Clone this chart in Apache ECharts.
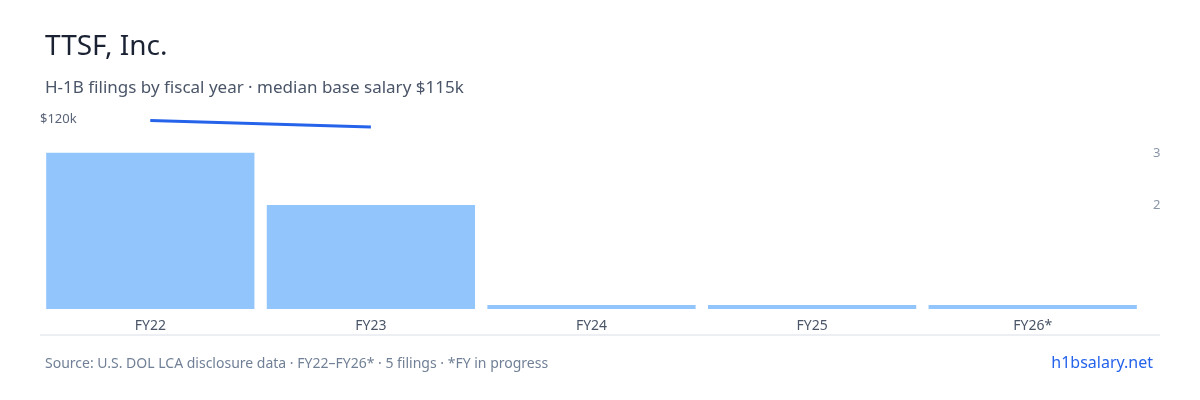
<!DOCTYPE html><html><head><meta charset="utf-8"><script src="https://cdn.jsdelivr.net/npm/echarts@6/dist/echarts.min.js"></script></head><body style="margin:0"><div id="c" style="width:1200px;height:400px"></div><script>
const categories=['FY22','FY23','FY24','FY25','FY26*'];
const filings=[3,2,0,0,0];
const salary=[119000,115000,null,null,null];
const c=echarts.init(document.getElementById('c'));
const F='"Noto Sans", sans-serif';
c.setOption({
animation:false,
title:[{text:'TTSF, Inc.',left:40,top:28,textStyle:{fontFamily:F,fontSize:28,fontWeight:'normal',color:'#1a2233'}},
{text:'H-1B filings by fiscal year · median base salary $115k',left:40,top:75,textStyle:{fontFamily:F,fontSize:17,fontWeight:'normal',color:'#4a5568'}},
{text:'Source: U.S. DOL LCA disclosure data · FY22–FY26* · 5 filings · *FY in progress',left:40,top:352,textStyle:{fontFamily:F,fontSize:14,fontWeight:'normal',color:'#718096'}},
{text:'h1bsalary.net',right:42,top:350,textStyle:{fontFamily:F,fontSize:16,fontWeight:'normal',color:'#2563eb'}}],
graphic:[{type:'line',shape:{x1:40,y1:335,x2:1160,y2:335},style:{stroke:'#d9dee6',lineWidth:1}}],
grid:{left:40,right:57,top:119,bottom:91},
xAxis:{type:'category',data:categories,axisLine:{show:false},axisTick:{show:false},axisLabel:{fontFamily:F,fontSize:14,color:'#4a5568',margin:10}},
yAxis:[{type:'value',min:0,max:120000,interval:120000,splitLine:{show:false},axisLabel:{inside:true,fontFamily:F,fontSize:13,color:'#5a6478',formatter:v=>v===120000?'$120k':'',verticalAlign:'middle',margin:0}},
{type:'value',min:0,max:3.65,interval:1,splitLine:{show:false},axisLabel:{fontFamily:F,fontSize:13,color:'#8a96a8',margin:10,formatter:v=>(v===2||v===3)?String(v):''}}],
series:[{type:'bar',yAxisIndex:1,data:filings,barCategoryGap:'5.6%',barMinHeight:4,itemStyle:{color:'#93c5fd'}},
{type:'line',yAxisIndex:0,data:salary,symbol:'none',lineStyle:{color:'#2563eb',width:3}}]
});
</script></body></html>
